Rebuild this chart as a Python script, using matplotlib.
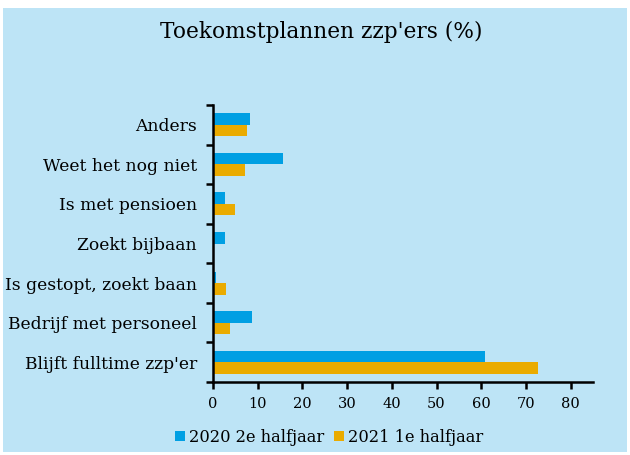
import matplotlib.pyplot as plt
from matplotlib.patches import Rectangle
import numpy as np

categories = ["Blijft fulltime zzp'er", "Bedrijf met personeel", "Is gestopt, zoekt baan",
              "Zoekt bijbaan", "Is met pensioen", "Weet het nog niet", "Anders"]
h2_2020 = [60.8, 8.8, 0.6, 2.6, 2.6, 15.6, 8.3]
h1_2021 = [72.8, 3.9, 2.9, 0.0, 5.0, 7.1, 7.7]
series_names = ["2020 2e halfjaar", "2021 1e halfjaar"]
xticks = [0, 10, 20, 30, 40, 50, 60, 70, 80]

bg = "#BDE4F6"
blue = "#009FE3"
orange = "#EAAB00"
font = "DejaVu Serif"

fig = plt.figure(figsize=(6.3, 4.55), dpi=100, facecolor="white")
fig.patches.append(Rectangle((3 / 630, 3 / 455), 624 / 630, 444 / 455,
                             transform=fig.transFigure, facecolor=bg, edgecolor="none", zorder=-1))

ax = fig.add_axes([213 / 630, 1 - 382 / 455, 380 / 630, 277 / 455])
ax.set_facecolor(bg)

y = np.arange(len(categories))
h = 0.29
ax.barh(y + h / 2, h2_2020, height=h, color=blue, label=series_names[0])
ax.barh(y - h / 2, h1_2021, height=h, color=orange, label=series_names[1])

ax.set_xlim(0, 85)
ax.set_ylim(-0.5, len(categories) - 0.5)
ax.set_xticks(xticks)
ax.set_xticklabels([str(t) for t in xticks], fontsize=10.5, family=font)
ax.set_yticks(np.arange(-0.5, len(categories), 1.0))
ax.set_yticklabels([])
ax.set_yticks(y, minor=True)
ax.set_yticklabels(categories, minor=True, fontsize=12.3, family=font)
ax.tick_params(axis="y", which="minor", length=0, pad=11.5)
ax.tick_params(axis="y", which="major", length=5, width=1.8, direction="out")
ax.tick_params(axis="x", length=5, width=1.8, direction="out", pad=6)

for s in ["top", "right"]:
    ax.spines[s].set_visible(False)
for s in ["left", "bottom"]:
    ax.spines[s].set_linewidth(1.8)

fig.text(321 / 630, 1 - 32 / 455, "Toekomstplannen zzp'ers (%)", ha="center", va="center",
         fontsize=15.6, family=font)

leg = fig.legend(loc="center", bbox_to_anchor=(329 / 630, 1 - 437 / 455), ncol=2, frameon=False,
                 prop={"family": font, "size": 11.7}, handlelength=0.6, handleheight=0.6,
                 handletextpad=0.25, columnspacing=0.6)

fig.savefig("out.png", dpi=100, facecolor="white")
